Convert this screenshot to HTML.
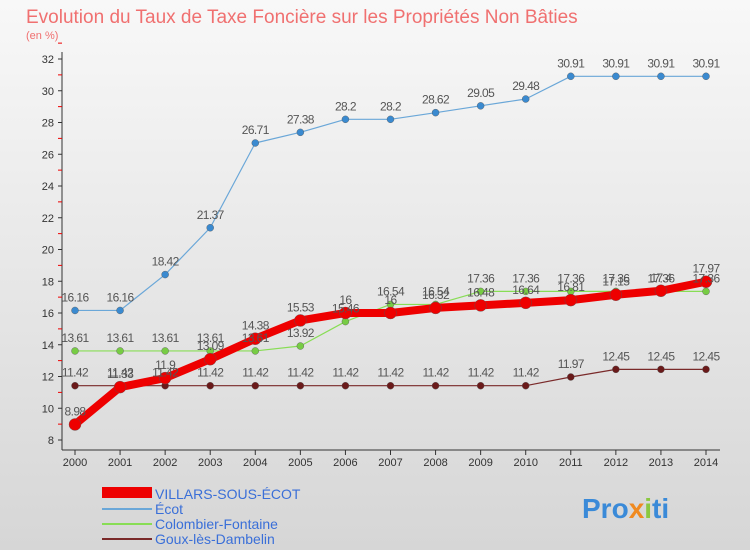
<!DOCTYPE html>
<html><head><meta charset="utf-8"><style>
body{margin:0;width:750px;height:550px;overflow:hidden;font-family:"Liberation Sans",sans-serif;}
svg text{font-family:"Liberation Sans",sans-serif;}
</style></head><body>
<svg width="750" height="550" xmlns="http://www.w3.org/2000/svg">
<defs><linearGradient id="bg" x1="0" y1="0" x2="0" y2="1"><stop offset="0" stop-color="#f8f8f8"/><stop offset="1" stop-color="#d6d6d6"/></linearGradient></defs>
<rect x="0" y="0" width="750" height="550" fill="url(#bg)"/>
<text x="26" y="23" font-size="19" fill="#f07070">Evolution du Taux de Taxe Foncière sur les Propriétés Non Bâties</text>
<text x="26" y="39" font-size="11" fill="#f07070">(en %)</text>
<g id="axes"></g><g id="series"></g><g id="labels"></g>
<g>
<rect x="102" y="487" width="50" height="11" fill="#ee0000"/>
<text x="155" y="499" font-size="14" fill="#3a6fd8">VILLARS-SOUS-ÉCOT</text>
<line x1="102" y1="509" x2="152" y2="509" stroke="#6aa7d8" stroke-width="2"/>
<text x="155" y="514" font-size="14" fill="#3a6fd8">Écot</text>
<line x1="102" y1="524" x2="152" y2="524" stroke="#88dd55" stroke-width="2"/>
<text x="155" y="529" font-size="14" fill="#3a6fd8">Colombier-Fontaine</text>
<line x1="102" y1="539" x2="152" y2="539" stroke="#7a2a2a" stroke-width="2"/>
<text x="155" y="544" font-size="14" fill="#3a6fd8">Goux-lès-Dambelin</text>
</g>
<text x="582" y="518" font-size="28" font-weight="bold" fill="#3a8ad8">Pro<tspan fill="#f08a20">x</tspan><tspan fill="#8ac840">i</tspan>ti</text>
</svg>
<script>
const years=[2000,2001,2002,2003,2004,2005,2006,2007,2008,2009,2010,2011,2012,2013,2014];
const villars=[8.98,11.33,11.9,13.09,14.38,15.53,16,16,16.32,16.48,16.64,16.81,17.15,17.4,17.97];
const ecot=[16.16,16.16,18.42,21.37,26.71,27.38,28.2,28.2,28.62,29.05,29.48,30.91,30.91,30.91,30.91];
const colombier=[13.61,13.61,13.61,13.61,13.61,13.92,15.46,16.54,16.54,17.36,17.36,17.36,17.36,17.36,17.36];
const goux=[11.42,11.42,11.42,11.42,11.42,11.42,11.42,11.42,11.42,11.42,11.42,11.97,12.45,12.45,12.45];
const yTicks=[8,10,12,14,16,18,20,22,24,26,28,30,32];
const NS="http://www.w3.org/2000/svg";
const x=i=>75+i*(706-75)/(years.length-1);
const y=v=>440-(v-8)*(440-59)/24;
function mk(t,a,p){const e=document.createElementNS(NS,t);for(const k in a)e.setAttribute(k,a[k]);p.appendChild(e);return e;}
const ax=document.getElementById('axes'),sg=document.getElementById('series'),lg=document.getElementById('labels');
let l=mk('line',{x1:62,y1:52,x2:62,y2:450,stroke:'#333','stroke-width':1},ax);


l=mk('line',{x1:62,y1:450,x2:720,y2:450,stroke:'#333','stroke-width':1},ax);


yTicks.forEach(v=>{
 mk('line',{x1:58,y1:y(v),x2:62,y2:y(v),stroke:'#333'},ax);
 mk('line',{x1:58,y1:y(v+1),x2:62,y2:y(v+1),stroke:'#e00'},ax);
 const t=mk('text',{x:54,y:y(v)+4,'font-size':11,fill:'#333','text-anchor':'end'},ax);t.textContent=v;
 
 
});
years.forEach((yr,i)=>{
 mk('line',{x1:x(i),y1:450,x2:x(i),y2:455,stroke:'#333'},ax);
 const t=mk('text',{x:x(i),y:466,'font-size':11,fill:'#333','text-anchor':'middle'},ax);t.textContent=yr;
 
 
});
function series(d,col,w,r,dot,name){
 const p=mk('polyline',{points:d.map((v,i)=>x(i)+','+y(v)).join(' '),fill:'none',stroke:col,'stroke-width':w,'stroke-linejoin':'round'},sg);
 
 
 d.forEach((v,i)=>{
  const c=mk('circle',{cx:x(i),cy:y(v),r:r,fill:dot,stroke:'#555','stroke-width':0.4},sg);
  
  
  const t=mk('text',{x:x(i),y:y(v)-9,'font-size':12,fill:'#555','text-anchor':'middle','letter-spacing':'-0.6'},lg);t.textContent=v;
  
  
 });
}
series(ecot,'#6aa7d8',1.2,3.5,'#3a8ad0','ecot');
series(goux,'#7a2a2a',1.2,3.5,'#6a1a1a','goux');
series(colombier,'#88dd55',1.2,3.5,'#77cc44','colombier');
series(villars,'#ee0000',8,6,'#ee0000','villars');
</script>
</body></html>
